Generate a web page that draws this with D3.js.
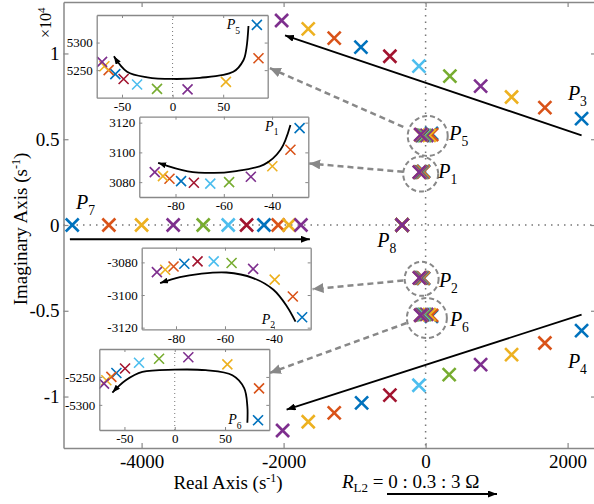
<!DOCTYPE html>
<html>
<head>
<meta charset="utf-8">
<script src="https://d3js.org/d3.v7.min.js"></script>
<style>
  body { margin: 0; background: #fff; }
  svg text { font-family: "Liberation Serif", "Times New Roman", serif; fill: #000; }
</style>
</head>
<body>
<svg id="chart"></svg>
<script>
var width = 594, height = 504;

// R_L2 sweep, one colour per step (MATLAB default order)
var rL2 = [0, 0.3, 0.6, 0.9, 1.2, 1.5, 1.8, 2.1, 2.4, 2.7, 3];
var stepColors = ["#0072BD", "#D95319", "#EDB120", "#7E2F8E", "#77AC30", "#4DBEEE",
                  "#A2142F", "#0072BD", "#D95319", "#EDB120", "#7E2F8E"];

// far complex pair
var p3Re = [2197, 1680, 1211, 775, 342, -94, -503, -911, -1287, -1653, -2028];
var p3Im = [6200, 6840, 7460, 8100, 8680, 9260, 9840, 10370, 10890, 11430, 11920];
var p4Re = [2197, 1680, 1211, 775, 332, -94, -503, -901, -1287, -1653, -2014];
var p4Im = [-6160, -6880, -7560, -8140, -8720, -9340, -9920, -10370, -10950, -11470, -11980];
// real poles
var p7Re = [-4977, -4461, -4000, -3555, -3132, -2780, -2521, -2277, -2076, -1925, -1756];
var p8Re = [-330, -330, -330, -330, -330, -330, -330, -330, -330, -330, -330];
// close-up poles
var p1Re = [-28.6, -32.4, -39.9, -48.8, -57.8, -65.6, -72.4, -77.7, -82.5, -85.2, -88.6];
var p1Im = [3116.3, 3101.8, 3090.7, 3083.6, 3080, 3079, 3079.6, 3080.7, 3082.3, 3084, 3086.7];
var p2Re = [-28.5, -32.3, -39.7, -48.5, -57.3, -64.6, -71.2, -76.6, -81, -84.4, -87.8];
var p2Im = [-3113.6, -3100.9, -3090.6, -3084, -3080.4, -3079.4, -3079.4, -3080.8, -3082.5, -3084.5, -3086];
var p5Re = [83.3, 84.9, 52.7, 14.8, -15.4, -35.1, -48.4, -56.6, -63.2, -67.4, -69.7];
var p5Im = [5332, 5271.5, 5228.6, 5215, 5216, 5224, 5234, 5242.7, 5250, 5257, 5265];
var p6Re = [82.8, 83.8, 52.3, 13.5, -15.6, -35.5, -49.4, -58, -63, -68, -70.3];
var p6Im = [-5327.6, -5270.5, -5227.6, -5214.7, -5217.5, -5224.6, -5235, -5243, -5250, -5256, -5262];

var xTicks = [-4000, -2000, 0, 2000];
var yTicks = [-10000, -5000, 0, 5000, 10000];

// trend curves drawn inside the close-ups
var p1Trend = [[-32.4, 3118.5], [-36.5, 3101.8], [-43.4, 3091.8], [-55.7, 3087.3], [-64, 3086.2], [-74.9, 3087.3], [-87.2, 3093]];
var p2Trend = [[-31.2, -3116.3], [-34.7, -3107], [-40.2, -3096.8], [-48.5, -3089.6], [-59.4, -3086.2], [-70.2, -3087], [-78.4, -3089], [-86.5, -3092.7]];
var p5Trend = [[75, 5330], [73, 5290], [70, 5268], [60, 5247], [27, 5236], [0, 5234], [-25, 5237], [-45, 5247], [-58, 5275]];
var p6Trend = [[72.2, -5332], [72.2, -5303], [69, -5270], [57.3, -5247], [30.8, -5238], [0, -5237], [-32.2, -5241], [-48.7, -5256], [-62, -5278]];

var svg = d3.select("#chart").attr("width", width).attr("height", height);
var defs = svg.append("defs");

function arrowMarker(id, color, len, wid) {
  defs.append("marker").attr("id", id)
    .attr("viewBox", "0 0 " + len + " " + wid)
    .attr("refX", len).attr("refY", wid / 2)
    .attr("markerWidth", len).attr("markerHeight", wid)
    .attr("markerUnits", "userSpaceOnUse").attr("orient", "auto")
    .append("path").attr("d", "M0,0L" + len + "," + (wid / 2) + "L0," + wid + "Z")
    .attr("fill", color);
}
arrowMarker("headBlack", "#000", 9, 7);
arrowMarker("headSmall", "#000", 8, 6);
arrowMarker("headGray", "#888", 11, 10);

var x = d3.scaleLinear().domain([-5100, 2400]).range([63.5, 596]);
var y = d3.scaleLinear().domain([-13000, 13000]).range([448, 2]);

function cross(sel, s, w) {
  sel.append("path")
    .attr("d", "M" + (-s) + "," + (-s) + "L" + s + "," + s + "M" + (-s) + "," + s + "L" + s + "," + (-s))
    .attr("stroke-width", w).attr("fill", "none");
}

function pLabel(g, px, py, sub, fs) {
  var t = g.append("text").attr("x", px).attr("y", py).style("font-size", fs + "px");
  t.append("tspan").style("font-style", "italic").text("P");
  t.append("tspan").attr("dy", fs * 0.3).style("font-size", (fs * 0.68) + "px").text(sub);
}

// zero lines
svg.append("line").attr("x1", x(0)).attr("x2", x(0)).attr("y1", y(13000)).attr("y2", y(-13000))
  .attr("stroke", "#777").attr("stroke-width", 1.5).attr("stroke-dasharray", "1.5,5");
svg.append("line").attr("x1", x(-5100)).attr("x2", x(2400)).attr("y1", y(0)).attr("y2", y(0))
  .attr("stroke", "#777").attr("stroke-width", 1.5).attr("stroke-dasharray", "1.5,5");

// all poles, drawn step by step so the last step is on top
var poles = [];
rL2.forEach(function (r, i) {
  poles.push({ i: i, re: p3Re[i], im: p3Im[i] });
  poles.push({ i: i, re: p4Re[i], im: p4Im[i] });
  poles.push({ i: i, re: p7Re[i], im: 0 });
  poles.push({ i: i, re: p8Re[i], im: 0 });
  poles.push({ i: i, re: p1Re[i], im: p1Im[i] });
  poles.push({ i: i, re: p2Re[i], im: p2Im[i] });
  poles.push({ i: i, re: p5Re[i], im: p5Im[i] });
  poles.push({ i: i, re: p6Re[i], im: p6Im[i] });
});
svg.append("g").selectAll("g").data(poles).join("g")
  .attr("transform", function (d) { return "translate(" + x(d.re) + "," + y(d.im) + ")"; })
  .attr("stroke", function (d) { return stepColors[d.i]; })
  .each(function () { cross(d3.select(this), 6.5, 2.6); });

// trend arrows in the main plane
var mainArrows = [
  [[2197, 5230], [-1980, 11050]],
  [[2197, -5230], [-1958, -10760]],
  [[-5010, -830], [-1630, -830]]
];
svg.append("g").selectAll("line").data(mainArrows).join("line")
  .attr("x1", function (d) { return x(d[0][0]); }).attr("y1", function (d) { return y(d[0][1]); })
  .attr("x2", function (d) { return x(d[1][0]); }).attr("y2", function (d) { return y(d[1][1]); })
  .attr("stroke", "#000").attr("stroke-width", 1.8).attr("marker-end", "url(#headBlack)");

// dashed circles around clusters
var rings = [[30, 5190, 20], [-69, 2970, 17.5], [-56, -3140, 17], [18, -5424, 20]];
svg.append("g").selectAll("circle").data(rings).join("circle")
  .attr("cx", function (d) { return x(d[0]); }).attr("cy", function (d) { return y(d[1]); })
  .attr("r", function (d) { return d[2]; })
  .attr("fill", "none").attr("stroke", "#888").attr("stroke-width", 2).attr("stroke-dasharray", "5,3");

// dashed call-out arrows
var callouts = [
  [[-314, 5715], [-2193, 9145]],
  [[-315, 3100], [-1639, 3587]],
  [[-315, -3238], [-1592, -3738]],
  [[-268, -5715], [-2193, -8622]]
];
svg.append("g").selectAll("line").data(callouts).join("line")
  .attr("x1", function (d) { return x(d[0][0]); }).attr("y1", function (d) { return y(d[0][1]); })
  .attr("x2", function (d) { return x(d[1][0]); }).attr("y2", function (d) { return y(d[1][1]); })
  .attr("stroke", "#888").attr("stroke-width", 2.5).attr("stroke-dasharray", "6,4")
  .attr("marker-end", "url(#headGray)");

// main labels
var mainLabels = [["3", 2004, 7270], ["4", 2004, -8310], ["5", 332, 4940], ["1", 177, 2730],
                  ["2", 187, -3620], ["6", 342, -5870], ["7", -4925, 930], ["8", -682, -1260]];
mainLabels.forEach(function (d) { pLabel(svg, x(d[1]), y(d[2]), d[0], 20); });

// close-up panels
function drawInset(cfg) {
  var ix = d3.scaleLinear().domain(cfg.xDomain).range([cfg.box[0], cfg.box[1]]);
  var iy = d3.scaleLinear().domain(cfg.yDomain).range([cfg.box[3], cfg.box[2]]);
  var g = svg.append("g");
  var id = "clip" + cfg.name;
  defs.append("clipPath").attr("id", id).append("rect")
    .attr("x", cfg.box[0]).attr("y", cfg.box[2])
    .attr("width", cfg.box[1] - cfg.box[0]).attr("height", cfg.box[3] - cfg.box[2]);
  g.append("rect").attr("x", cfg.box[0]).attr("y", cfg.box[2])
    .attr("width", cfg.box[1] - cfg.box[0]).attr("height", cfg.box[3] - cfg.box[2])
    .attr("fill", "#fff");
  var inner = g.append("g").attr("clip-path", "url(#" + id + ")");
  if (cfg.xDomain[0] < 0 && cfg.xDomain[1] > 0) {
    inner.append("line").attr("x1", ix(0)).attr("x2", ix(0)).attr("y1", cfg.box[2]).attr("y2", cfg.box[3])
      .attr("stroke", "#777").attr("stroke-width", 1).attr("stroke-dasharray", "1,3");
  }
  inner.selectAll("g.pt").data(cfg.re).join("g").attr("class", "pt")
    .attr("transform", function (d, i) { return "translate(" + ix(d) + "," + iy(cfg.im[i]) + ")"; })
    .attr("stroke", function (d, i) { return stepColors[i]; })
    .each(function () { cross(d3.select(this), 5, 1.6); });
  g.append("path").datum(cfg.trend)
    .attr("d", d3.line().x(function (d) { return ix(d[0]); }).y(function (d) { return iy(d[1]); }).curve(d3.curveCatmullRom))
    .attr("fill", "none").attr("stroke", "#000").attr("stroke-width", 1.8)
    .attr("marker-end", "url(#headSmall)");

  var axes = [
    [d3.axisBottom(ix).tickValues(cfg.xTicks).tickFormat(String), "translate(0," + cfg.box[3] + ")"],
    [d3.axisTop(ix).tickValues(cfg.xTicks).tickFormat(""), "translate(0," + cfg.box[2] + ")"],
    [d3.axisLeft(iy).tickValues(cfg.yTicks).tickFormat(String), "translate(" + cfg.box[0] + ",0)"],
    [d3.axisRight(iy).tickValues(cfg.yTicks).tickFormat(""), "translate(" + cfg.box[1] + ",0)"]
  ];
  axes.forEach(function (a) {
    var ag = g.append("g").attr("transform", a[1])
      .call(a[0].tickSizeInner(-3).tickSizeOuter(0).tickPadding(4));
    ag.select(".domain").attr("stroke", "#888").attr("stroke-width", 1.3);
    ag.selectAll(".tick line").attr("stroke", "#888");
    ag.selectAll("text").style("font-size", "13px").attr("fill", "#000");
  });
  pLabel(g, ix(cfg.label[0]), iy(cfg.label[1]), cfg.name, 14);
}

drawInset({ name: "5", box: [96.7, 267.7, 15, 97.7], xDomain: [-75, 94], yDomain: [5200, 5350],
  xTicks: [-50, 0, 50], yTicks: [5250, 5300], re: p5Re, im: p5Im, trend: p5Trend, label: [53.5, 5324] });
drawInset({ name: "1", box: [139.3, 308.3, 116.7, 197], xDomain: [-95, -25], yDomain: [3070, 3124],
  xTicks: [-80, -60, -40], yTicks: [3080, 3100, 3120], re: p1Re, im: p1Im, trend: p1Trend, label: [-42.9, 3114.6] });
drawInset({ name: "2", box: [141.7, 310.7, 247.7, 329.3], xDomain: [-94, -25], yDomain: [-3121, -3071],
  xTicks: [-80, -60, -40], yTicks: [-3120, -3100, -3080], re: p2Re, im: p2Im, trend: p2Trend, label: [-45, -3117.5] });
drawInset({ name: "6", box: [99.3, 269.3, 349, 430], xDomain: [-75, 94], yDomain: [-5345, -5200],
  xTicks: [-50, 0, 50], yTicks: [-5300, -5250], re: p6Re, im: p6Im, trend: p6Trend, label: [53.2, -5335] });

// main axes box
var mainAxes = [
  [d3.axisBottom(x).tickValues(xTicks).tickFormat(String).tickPadding(7), "translate(0,448)"],
  [d3.axisTop(x).tickValues(xTicks).tickFormat(""), "translate(0,2)"],
  [d3.axisLeft(y).tickValues(yTicks).tickFormat(function (d) { return String(d / 1e4); }).tickPadding(4), "translate(63.5,0)"],
  [d3.axisRight(y).tickValues(yTicks).tickFormat(""), "translate(596,0)"]
];
mainAxes.forEach(function (a) {
  var ag = svg.append("g").attr("transform", a[1]).call(a[0].tickSizeInner(-5).tickSizeOuter(0));
  ag.select(".domain").attr("stroke", "#888").attr("stroke-width", 1.5);
  ag.selectAll(".tick line").attr("stroke", "#888").attr("stroke-width", 1.2);
  ag.selectAll("text").style("font-size", "19px").attr("fill", "#000");
});

// axis titles
var yl = svg.append("text").attr("transform", "translate(27,229) rotate(-90)")
  .attr("text-anchor", "middle").style("font-size", "19px");
yl.append("tspan").text("Imaginary Axis (s");
yl.append("tspan").attr("dy", -7).style("font-size", "12px").text("-1");
yl.append("tspan").attr("dy", 7).text(")");

var xl = svg.append("text").attr("x", 228).attr("y", 489)
  .attr("text-anchor", "middle").style("font-size", "19px");
xl.append("tspan").text("Real Axis (s");
xl.append("tspan").attr("dy", -7).style("font-size", "12px").text("-1");
xl.append("tspan").attr("dy", 7).text(")");

var ex = svg.append("text").attr("transform", "translate(51,38) rotate(-90)").style("font-size", "16px");
ex.append("tspan").text("\u00d710");
ex.append("tspan").attr("dy", -6).style("font-size", "11px").text("4");

var rl = svg.append("text").attr("x", 342).attr("y", 488).style("font-size", "19px");
rl.append("tspan").style("font-style", "italic").text("R");
rl.append("tspan").attr("dy", 4).style("font-size", "13px").text("L2");
rl.append("tspan").attr("dy", -4).text(" = 0 : 0.3 : 3 \u03a9");
svg.append("line").attr("x1", 387).attr("x2", 497).attr("y1", 494).attr("y2", 494)
  .attr("stroke", "#000").attr("stroke-width", 1.8).attr("marker-end", "url(#headBlack)");
</script>
</body>
</html>
